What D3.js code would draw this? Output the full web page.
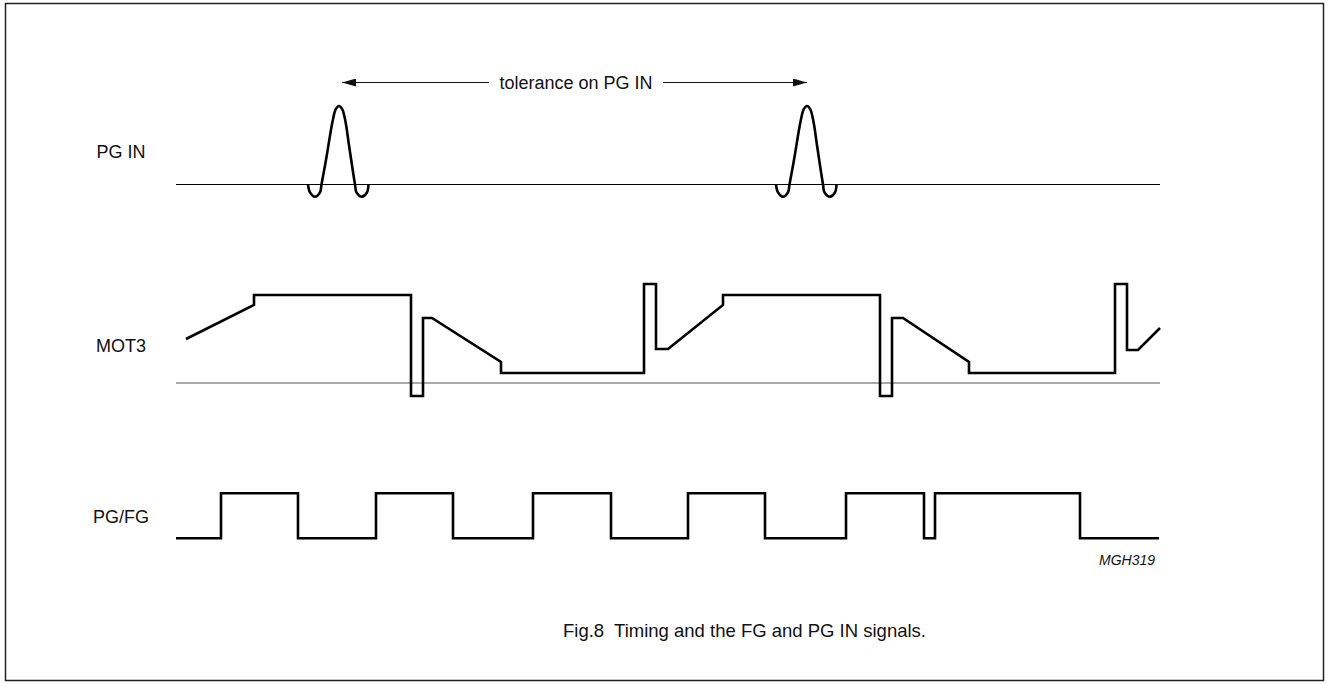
<!DOCTYPE html>
<html>
<head>
<meta charset="utf-8">
<script src="https://cdn.jsdelivr.net/npm/d3@7"></script>
<style>
  html, body { margin: 0; padding: 0; background: #fff; }
  svg text { font-family: "Liberation Sans", Arial, Helvetica, sans-serif; fill: #111; white-space: pre; }
</style>
</head>
<body>
<div id="chart"></div>
<script>
// time axis: arbitrary units along the trace (0 = trace start)
const traceSpan = [0, 984];

// PG IN: two pulses with undershoots (level 0 = baseline, 1 = pulse top)
const pgInPulse1Time = [132, 134, 139, 144, 145.5, 150.5, 156.5, 159.8, 163, 166.2, 169.5, 173, 179, 180.5, 186, 191, 192.5];
const pgInPulse2Time = [600, 602, 607, 612, 613.5, 618.5, 624.5, 627.8, 631, 634.2, 637.5, 641, 647, 648.5, 654, 659, 660.5];
const pgInPulseLevel = [0, -0.1, -0.155, -0.1, 0, 0.35, 0.8, 0.96, 1, 0.96, 0.8, 0.5, 0, -0.1, -0.155, -0.1, 0];

// MOT3 waveform (level in % of scale, 0 = reference line)
const mot3Time  = [10, 78, 78, 235, 235, 247, 247, 256, 325, 325, 468, 468, 480, 480, 492, 547, 547, 704, 704, 716, 716, 727, 793, 793, 939, 939, 951, 951, 962, 984];
const mot3Level = [44, 78, 88, 88, -13, -13, 65, 65, 21, 10, 10, 99, 99, 34, 34, 78, 88, 88, -13, -13, 65, 65, 21, 10, 10, 99, 99, 33, 33, 55];

// PG/FG digital signal (step after each edge)
const pgfgTime  = [0, 45, 122, 200, 277, 357, 435, 512, 589, 670, 748, 759, 904, 983];
const pgfgLevel = [0, 1, 0, 1, 0, 1, 0, 1, 0, 1, 0, 1, 0, 0];

// annotations
const signalNames = ["PG IN", "MOT3", "PG/FG"];
const toleranceSpan = [166, 631];
const toleranceLabel = "tolerance on PG IN";
const figureCode = "MGH319";
const caption = "Fig.8  Timing and the FG and PG IN signals.";

const W = 1328, H = 684;
const svg = d3.select("#chart").append("svg")
    .attr("width", W).attr("height", H)
    .attr("viewBox", `0 0 ${W} ${H}`);

// frame
svg.append("rect")
    .attr("x", 5.5).attr("y", 3.5)
    .attr("width", 1318).attr("height", 677)
    .attr("fill", "none").attr("stroke", "#222").attr("stroke-width", 1.5);

const x = d3.scaleLinear().domain(traceSpan).range([176, 1160]);
const yPg = d3.scaleLinear().domain([0, 1]).range([184.5, 106]);
const yMot = d3.scaleLinear().domain([0, 100]).range([383, 283]);
const yFg = d3.scaleLinear().domain([0, 1]).range([538.3, 493.3]);

const thick = 2.6;

// label column
const labelY = [158, 352, 523];
svg.selectAll("text.sig")
    .data(signalNames)
    .join("text")
    .attr("class", "sig")
    .attr("x", 121)
    .attr("y", (d, i) => labelY[i])
    .attr("text-anchor", "middle")
    .style("font-size", "18px")
    .text(d => d);

// PG IN baseline and pulses
svg.append("line")
    .attr("x1", x(traceSpan[0])).attr("x2", x(traceSpan[1]))
    .attr("y1", yPg(0)).attr("y2", yPg(0))
    .attr("stroke", "#000").attr("stroke-width", 1.2);

const pulseLine = d3.line()
    .x(d => x(d[0])).y(d => yPg(d[1]))
    .curve(d3.curveCatmullRom.alpha(0.5));

[pgInPulse1Time, pgInPulse2Time].forEach(times => {
    svg.append("path")
        .attr("d", pulseLine(times.map((t, i) => [t, pgInPulseLevel[i]])))
        .attr("fill", "none").attr("stroke", "#000")
        .attr("stroke-width", thick).attr("stroke-linejoin", "round");
});

// tolerance arrow
const defs = svg.append("defs");
["start", "end"].forEach(k => {
    defs.append("marker")
        .attr("id", "arrow-" + k)
        .attr("viewBox", "0 0 14 8")
        .attr("refX", k === "end" ? 14 : 0).attr("refY", 4)
        .attr("markerWidth", 14).attr("markerHeight", 8)
        .attr("markerUnits", "userSpaceOnUse")
        .attr("orient", "auto")
        .append("path")
        .attr("d", k === "end" ? "M0,0L14,4L0,8Z" : "M14,0L0,4L14,8Z")
        .attr("fill", "#111");
});
const arrowY = 82.5;
const labelCenter = 576, labelHalf = 87;
svg.append("line")
    .attr("x1", x(toleranceSpan[0])).attr("x2", labelCenter - labelHalf)
    .attr("y1", arrowY).attr("y2", arrowY)
    .attr("stroke", "#111").attr("stroke-width", 1.2)
    .attr("marker-start", "url(#arrow-start)");
svg.append("line")
    .attr("x1", labelCenter + labelHalf).attr("x2", x(toleranceSpan[1]))
    .attr("y1", arrowY).attr("y2", arrowY)
    .attr("stroke", "#111").attr("stroke-width", 1.2)
    .attr("marker-end", "url(#arrow-end)");
svg.append("text")
    .attr("x", labelCenter).attr("y", 89)
    .attr("text-anchor", "middle")
    .style("font-size", "18px")
    .text(toleranceLabel);

// MOT3 reference line and waveform
svg.append("line")
    .attr("x1", x(traceSpan[0])).attr("x2", x(traceSpan[1]))
    .attr("y1", yMot(0)).attr("y2", yMot(0))
    .attr("stroke", "#555").attr("stroke-width", 1.2);

const motLine = d3.line().x(d => x(d[0])).y(d => yMot(d[1]));
svg.append("path")
    .attr("d", motLine(mot3Time.map((t, i) => [t, mot3Level[i]])))
    .attr("fill", "none").attr("stroke", "#000")
    .attr("stroke-width", thick).attr("stroke-linejoin", "miter");

// PG/FG square wave
const fgLine = d3.line().x(d => x(d[0])).y(d => yFg(d[1])).curve(d3.curveStepAfter);
svg.append("path")
    .attr("d", fgLine(pgfgTime.map((t, i) => [t, pgfgLevel[i]])))
    .attr("fill", "none").attr("stroke", "#000")
    .attr("stroke-width", thick).attr("stroke-linejoin", "miter");

// figure code
svg.append("text")
    .attr("x", 1155).attr("y", 565)
    .attr("text-anchor", "end")
    .style("font-size", "14px").style("font-style", "italic")
    .text(figureCode);

// caption
svg.append("text")
    .attr("x", 563).attr("y", 637)
    .style("font-size", "18.5px")
    .text(caption);
</script>
</body>
</html>
